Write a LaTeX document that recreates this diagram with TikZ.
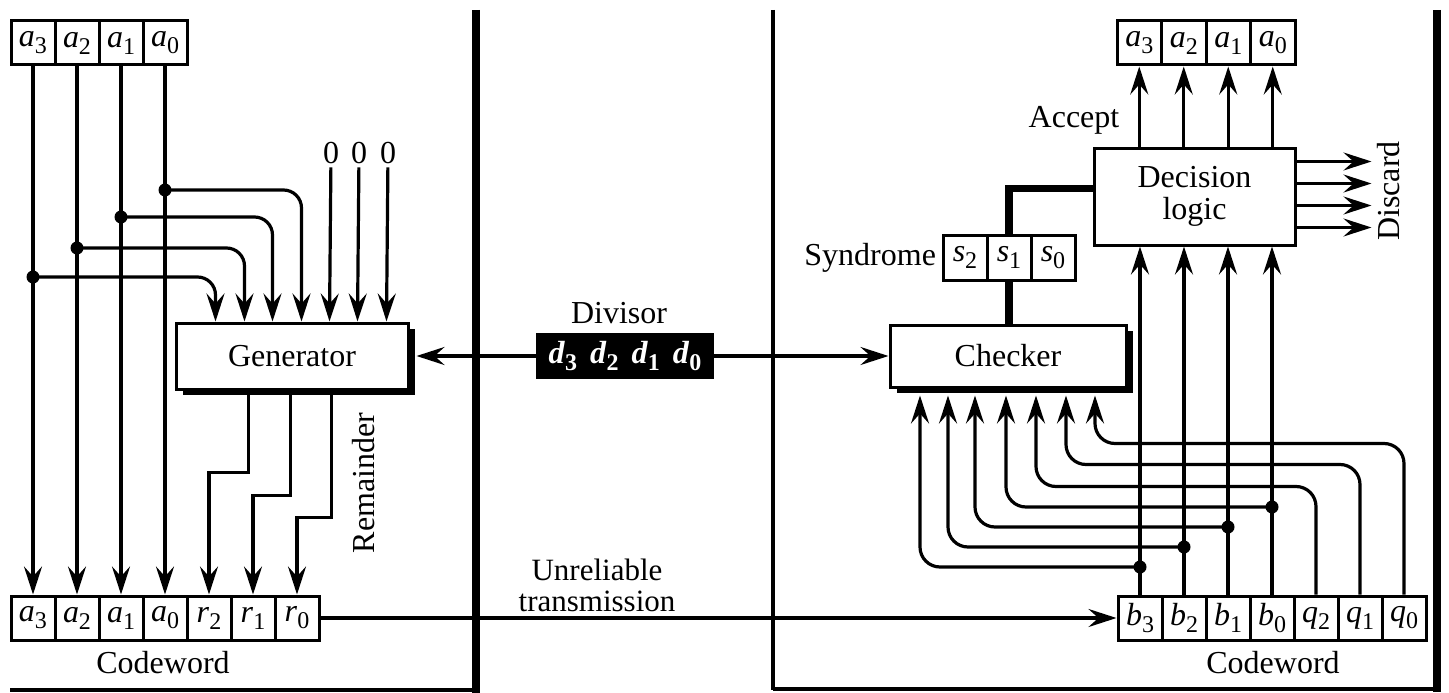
\documentclass[tikz,border=0pt]{standalone}
\usepackage{fontspec}
\setmainfont{Liberation Serif}
\usetikzlibrary{arrows.meta,calc,shadows}
\newcommand{\vsub}[2]{\textit{#1}\raisebox{-7pt}{\fontsize{24}{26}\selectfont #2}}
\begin{document}
\begin{tikzpicture}[x=1pt,y=-1pt,
  font=\fontsize{32}{32}\selectfont,
  wire/.style={line width=3.2pt},
  arr/.style={line width=3.2pt,-{Stealth[length=28pt,width=18pt,inset=10pt]}},
  cell/.style={draw,line width=3pt,minimum width=44pt,minimum height=44pt,inner sep=0pt},
  jdot/.style={circle,fill=black,inner sep=0pt,minimum size=13pt},
  bus/.style={line width=7.5pt},
  blk/.style={draw,line width=3pt,fill=white,inner sep=0pt},
  shad/.style={drop shadow={shadow xshift=7pt,shadow yshift=-6pt,fill=black,opacity=1}},
  panel/.style={line width=3.5pt},
  heavy/.style={line width=7.5pt}]
\useasboundingbox (0,0) rectangle (1449,693);
% panels
\draw[heavy] (476,10) -- (476,693);
\draw[panel] (10,690) -- (476,690);
\draw[panel] (773,10) -- (773,690);
\draw[panel] (773,689) -- (1437,689);
\draw[heavy] (1437,10) -- (1437,692);
% ---------- left: generator side ----------
\node[cell] (ta3) at (33,43) {\vsub{a}{3}};
\node[cell] (ta2) at (77,43) {\vsub{a}{2}};
\node[cell] (ta1) at (121,43) {\vsub{a}{1}};
\node[cell] (ta0) at (165,43) {\vsub{a}{0}};
\node[cell] (ba3) at (33,618) {\vsub{a}{3}};
\node[cell] (ba2) at (77,618) {\vsub{a}{2}};
\node[cell] (ba1) at (121,618) {\vsub{a}{1}};
\node[cell] (ba0) at (165,618) {\vsub{a}{0}};
\node[cell] (br2) at (209,618) {\vsub{r}{2}};
\node[cell] (br1) at (253,618) {\vsub{r}{1}};
\node[cell] (br0) at (297,618) {\vsub{r}{0}};
\node (cwl) at (163,663) {Codeword};
\node[blk,shad,minimum width=232pt,minimum height=66pt] (gen) at (292,356) {Generator};
\foreach \i/\o in {1/41,2/70,3/98,4/127,5/155,6/183,7/212}
  \coordinate (gi\i) at ($(gen.north west)+(\o,0)$);
\foreach \i/\o in {1/74,2/116,3/157}
  \coordinate (go\i) at ($(gen.south west)+(\o,0)$);
\draw[arr] (ta3) -- (ba3);
\draw[arr] (ta2) -- (ba2);
\draw[arr] (ta1) -- (ba1);
\draw[arr] (ta0) -- (ba0);
\node[jdot] (j3) at (33,277) {};
\node[jdot] (j2) at (77,248) {};
\node[jdot] (j1) at (121,217) {};
\node[jdot] (j0) at (165,190) {};
\draw[arr,rounded corners=18pt] (j3.center) -| (gi1);
\draw[arr,rounded corners=18pt] (j2.center) -| (gi2);
\draw[arr,rounded corners=18pt] (j1.center) -| (gi3);
\draw[arr,rounded corners=18pt] (j0.center) -| (gi4);
\node (z1) at (331,153) {0};
\node (z2) at (359,153) {0};
\node (z3) at (388,153) {0};
\draw[arr] (z1) -- (gi5);
\draw[arr] (z2) -- (gi6);
\draw[arr] (z3) -- (gi7);
\draw[arr] (go1) -- ++(0,82) -| (br2);
\draw[arr] (go2) -- ++(0,105) -| (br1);
\draw[arr] (go3) -- ++(0,127) -| (br0);
\node[rotate=90] (reml) at (364,483) {Remainder};
% ---------- middle ----------
\node[fill=black,text=white,minimum width=178pt,minimum height=46pt,inner sep=0pt,
      font=\fontsize{32}{32}\selectfont\bfseries] (div) at (625,356)
      {\vsub{d}{3}\hspace{13pt}\vsub{d}{2}\hspace{13pt}\vsub{d}{1}\hspace{13pt}\vsub{d}{0}};
\node (divl) at (619,313) {Divisor};
\node[blk,shad,minimum width=236pt,minimum height=62pt] (chk) at (1008,356) {Checker};
\draw[arr,shorten >=7pt] (div) -- (gen.east);
\draw[arr] (div) -- (chk);
\node[align=center,font=\fontsize{31}{31}\selectfont,inner sep=0pt] (trl) at (597,585) {Unreliable\\transmission};
% ---------- right: checker side ----------
\node[cell] (bb3) at (1140,618) {\vsub{b}{3}};
\node[cell] (bb2) at (1184,618) {\vsub{b}{2}};
\node[cell] (bb1) at (1228,618) {\vsub{b}{1}};
\node[cell] (bb0) at (1272,618) {\vsub{b}{0}};
\node[cell] (bq2) at (1316,618) {\vsub{q}{2}};
\node[cell] (bq1) at (1360,618) {\vsub{q}{1}};
\node[cell] (bq0) at (1404,618) {\vsub{q}{0}};
\node (cwr) at (1273,663) {Codeword};
\draw[arr] (br0) -- (bb3);
\node[blk,minimum width=201pt,minimum height=97pt,align=center] (dec) at (1194.5,196.5) {Decision\\logic};
\node[cell,minimum width=44.5pt] (ra3) at (1139.25,43) {\vsub{a}{3}};
\node[cell,minimum width=44.5pt] (ra2) at (1183.75,43) {\vsub{a}{2}};
\node[cell,minimum width=44.5pt] (ra1) at (1228.25,43) {\vsub{a}{1}};
\node[cell,minimum width=44.5pt] (ra0) at (1272.75,43) {\vsub{a}{0}};
\draw[arr] (dec.north -| ra3) -- (ra3);
\draw[arr] (dec.north -| ra2) -- (ra2);
\draw[arr] (dec.north -| ra1) -- (ra1);
\draw[arr] (dec.north -| ra0) -- (ra0);
\node (accl) at (1074,120) {Accept};
\foreach \i/\o in {1/15,2/37,3/59,4/81}
  \coordinate (do\i) at ($(dec.north east)+(0,\o)$);
\foreach \i in {1,...,4} \draw[arr] (do\i) -- ++(75,0);
\node[rotate=90] (disl) at (1389,191) {Discard};
\node[cell,minimum height=45pt] (s2) at (965,257.5) {\vsub{s}{2}};
\node[cell,minimum height=45pt] (s1) at (1009,257.5) {\vsub{s}{1}};
\node[cell,minimum height=45pt] (s0) at (1053,257.5) {\vsub{s}{0}};
\node[anchor=east] (synl) at ([xshift=-2pt]s2.west) {Syndrome};
\coordinate (decin) at ($(dec.north west)+(0,42)$);
\draw[bus] (s1.south) -- (s1.south |- chk.north);
\draw[bus] (s1.north) |- (decin);
% checker inputs
\foreach \i/\o in {1/31.5,2/59.5,3/86.5,4/117.5,5/147.5,6/177.5,7/206.5}
  \coordinate (ci\i) at ($(chk.south west)+(\o,0)$);
\draw[arr] (bb3) -- (bb3 |- dec.south);
\draw[arr] (bb2) -- (bb2 |- dec.south);
\draw[arr] (bb1) -- (bb1 |- dec.south);
\draw[arr] (bb0) -- (bb0 |- dec.south);
\node[jdot] (jb3) at (1140,567) {};
\node[jdot] (jb2) at (1184,547) {};
\node[jdot] (jb1) at (1228,527) {};
\node[jdot] (jb0) at (1272,507) {};
\draw[arr,rounded corners=20pt,shorten >=7pt] (jb3.center) -| (ci1);
\draw[arr,rounded corners=20pt,shorten >=7pt] (jb2.center) -| (ci2);
\draw[arr,rounded corners=20pt,shorten >=7pt] (jb1.center) -| (ci3);
\draw[arr,rounded corners=20pt,shorten >=7pt] (jb0.center) -| (ci4);
\draw[arr,rounded corners=20pt,shorten >=7pt] (bq2.north) -- ++(0,-108) -| (ci5);
\draw[arr,rounded corners=20pt,shorten >=7pt] (bq1.north) -- ++(0,-130) -| (ci6);
\draw[arr,rounded corners=20pt,shorten >=7pt] (bq0.north) -- ++(0,-151) -| (ci7);
\end{tikzpicture}
\end{document}
